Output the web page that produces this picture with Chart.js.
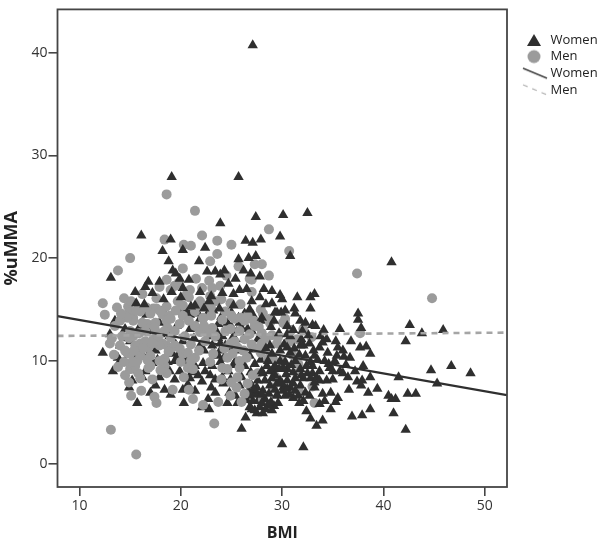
<!DOCTYPE html>
<html>
<head>
<meta charset="utf-8">
<title>BMI vs %uMMA</title>
<script src="https://cdn.jsdelivr.net/npm/chart.js@4/dist/chart.umd.min.js"></script>
<style>
    html, body { margin: 0; padding: 0; background: #fff; }
    #wrap { position: relative; width: 602px; height: 545px; }
</style>
</head>
<body>
<div id="wrap"><canvas id="scatterChart" width="602" height="545"></canvas></div>
<script>
// Valores: [BMI, %uMMA]
const womenPoints = [
    [27.1,40.7],[19.1,27.9],[25.7,27.9],[27.4,24.0],[30.1,24.2],[32.5,24.4],[23.9,23.4],[16.1,22.2],[40.8,19.6],[29.8,22.1],
    [19.0,21.8],[18.2,20.7],[20.2,20.8],[22.4,21.0],[26.4,21.7],[27.1,21.5],[27.9,21.8],[18.8,19.7],[21.8,19.7],[25.7,19.9],
    [26.7,20.0],[27.4,20.2],[30.8,20.2],[19.2,18.8],[19.5,18.5],[22.6,18.7],[23.4,18.7],[24.3,18.8],[23.9,18.4],[13.1,18.1],
    [16.8,17.7],[17.9,17.7],[20.8,17.9],[25.4,18.0],[27.8,18.2],[16.5,17.2],[24.7,17.5],[15.5,16.7],[19.1,16.7],[20.2,17.1],
    [26.5,17.0],[28.2,17.0],[17.2,16.6],[25.2,16.5],[29.8,16.4],[30.0,16.0],[18.3,16.0],[27.0,15.8],[15.6,15.6],[16.4,15.5],
    [22.8,15.8],[21.4,15.4],[25.2,15.4],[22.3,15.1],[23.8,15.1],[26.8,15.0],[29.5,14.7],[29.9,14.7],[20.5,14.9],[24.4,14.7],
    [25.0,14.7],[26.3,14.6],[27.1,14.5],[22.6,14.5],[19.8,14.8],[31.5,16.2],[32.8,16.2],[33.2,16.5],[31.2,15.1],[32.8,15.1],
    [29.3,14.7],[31.3,14.6],[37.5,14.6],[37.5,14.0],[32.3,13.7],[33.3,13.4],[37.8,13.2],[31.1,13.0],[34.1,13.0],[35.7,13.1],
    [42.6,13.5],[43.8,12.7],[45.9,13.0],[42.2,11.9],[36.8,11.9],[34.4,12.1],[35.3,11.9],[32.7,11.7],[30.5,12.6],[33.7,11.3],
    [35.5,11.3],[37.7,11.3],[38.3,11.4],[38.7,10.7],[34.5,10.8],[35.4,10.5],[36.1,10.4],[36.7,10.3],[32.1,11.5],[31.8,11.5],
    [30.5,11.3],[36.3,9.6],[38.0,9.5],[37.2,9.0],[35.0,9.0],[35.7,9.0],[36.5,8.4],[38.7,8.4],[37.4,8.0],[37.9,8.1],
    [37.8,7.6],[34.4,8.1],[36.6,7.2],[39.4,7.3],[38.5,6.9],[34.8,6.9],[34.0,6.8],[35.5,6.4],[35.3,6.0],[34.2,6.1],
    [40.5,6.6],[41.2,6.3],[40.8,6.3],[42.4,6.8],[43.2,6.8],[41.5,8.4],[44.7,9.1],[46.7,9.5],[48.6,8.8],[45.3,7.8],
    [38.7,5.3],[36.9,4.6],[37.9,4.7],[41.0,4.9],[34.8,5.3],[33.7,5.8],[31.7,5.9],[32.4,5.1],[32.8,4.4],[34.0,4.2],
    [33.4,3.7],[42.2,3.3],[30.0,1.9],[32.1,1.6],[29.2,5.6],[29.0,5.2],[31.1,6.4],[32.1,6.1],[29.5,6.7],[33.0,9.5],
    [33.0,8.8],[33.7,9.0],[33.4,8.4],[32.5,8.8],[32.8,8.3],[29.8,8.1],[30.5,8.1],[30.8,7.4],[30.1,7.4],[29.5,7.8],
    [29.1,9.2],[30.5,9.2],[34.7,9.3],[31.3,10.0],[31.8,9.2],[32.3,10.5],[31.3,8.3],[31.8,7.6],[32.3,6.9],[33.2,7.4],
    [33.7,8.1],[34.2,10.0],[33.2,10.5],[30.8,10.8],[29.8,10.0],[29.3,8.6],[28.8,7.6],[30.3,6.6],[31.3,7.1],[32.7,6.6],
    [12.3,10.8],[14.0,11.5],[13.3,9.0],[15.2,8.1],[14.9,7.4],[15.7,5.9],[18.4,7.2],[17.9,8.4],[20.2,7.2],[20.3,5.9],
    [22.7,6.3],[22.8,5.3],[22.1,5.5],[24.6,5.9],[25.6,5.9],[26.4,4.5],[26.0,3.4],[28.1,4.9],[27.5,4.9],[26.8,5.5],
    [27.1,6.1],[27.8,5.5],[27.3,6.8],[28.1,7.1],[29.5,6.6],[30.1,7.1],[19.4,8.2],[20.9,8.3],[22.1,8.0],[21.7,8.6],
    [19.9,9.0],[23.4,6.9],[23.4,8.2],[24.1,8.4],[24.2,7.8],[24.8,6.9],[22.2,9.8],[23.1,9.5],[19.7,10.5],[19.6,13.4],
    [21.7,13.2],[23.7,13.6],[14.5,13.1],[13.0,12.6],[14.0,10.0],[17.7,10.1],[19.2,10.7],[23.9,11.7],[23.9,11.0],[23.7,12.2],
    [25.6,11.0],[28.1,8.8],[28.8,9.0],[30.1,9.3],[27.5,7.4],[30.5,7.3],[23.5,12.9],[24.1,12.4],[23.1,11.5],[24.4,11.5],
    [23.7,10.5],[26.8,6.6],[27.6,6.1],[28.3,6.3],[28.6,5.7],[28.0,5.9],[27.3,5.2],[27.0,7.6],[27.6,8.1],[28.3,8.1],
    [29.0,8.3],[29.3,9.5],[28.6,10.0],[28.0,9.0],[29.8,11.0],[28.8,11.5],[27.6,12.1],[26.6,13.1],[25.8,13.7],[21.9,14.1],
    [20.9,13.1],[20.2,11.9],[20.9,10.5],[21.9,11.5],[22.7,12.4],[21.4,9.5],[22.9,8.6],[25.4,10.0],[26.3,9.5],[26.8,10.5],
    [24.7,9.0],[25.8,7.6],[25.4,6.6],[17.0,12.9],[16.0,13.4],[17.9,13.7],[15.0,11.9],[13.5,13.9],[17.5,11.0],[18.9,12.4],
    [18.4,11.5],[14.5,10.0],[16.5,9.0],[17.5,7.6],[19.4,10.0],[18.9,9.0],[21.4,7.1],
    [15.0,14.6],[16.6,14.5],[18.2,14.9],[21.0,15.3],[21.7,14.6],[23.2,14.9],[24.0,14.3],[25.7,14.2],[26.9,14.0],[28.4,15.5],
    [28.9,13.3],[30.3,14.9],[32.0,12.9],[33.8,12.4],[32.6,12.5],[31.9,12.1],[30.8,12.4],[29.7,12.7],[28.4,11.2],[27.2,11.1],
    [26.2,12.1],[25.2,12.4],[24.6,13.7],[22.9,13.0],[22.3,11.0],[21.3,12.2],[20.4,10.0],[19.5,11.6],[18.0,12.6],[16.8,10.6],
    [15.4,10.2],[14.9,9.1],[13.8,10.3],[16.2,8.4],[17.0,6.9],[19.0,6.7],[21.1,8.9],[20.7,7.7],[23.0,7.4],[23.9,9.9],
    [24.9,8.2],[25.2,9.6],[26.0,8.4],[26.9,8.9],[27.3,9.7],[27.9,10.1],[28.5,9.5],[29.7,9.2],[30.9,9.6],[31.7,10.6],
    [32.8,9.9],[33.5,10.1],[34.6,9.7],[35.2,10.0],[36.0,8.8],[35.0,8.2],[33.2,7.9],[32.1,8.3],[31.1,8.9],[30.4,8.7],
    [30.0,7.8],[29.3,7.2],[28.7,6.8],[28.0,6.7],[27.6,6.7],[27.2,7.2],[26.7,7.1],[26.5,6.2],[27.0,5.3],[27.8,6.2],
    [28.4,5.3],[28.9,6.0],[29.6,5.9],[30.7,6.7],[31.6,6.6],[31.9,8.6],[32.4,9.5],[31.1,7.8],[30.3,9.9],[29.0,10.7],
    [30.2,11.6],[31.2,11.2],[33.1,11.0],[34.0,11.8],[36.0,11.0],[33.0,13.5],[31.8,13.9],[30.5,13.4],[29.2,13.9],[27.9,13.9],
    [27.0,12.9],[26.0,13.2],[25.0,13.3],[24.9,11.3],[25.5,12.8],[24.2,10.2],[23.3,10.7],[22.4,9.0],[21.0,9.9],[18.7,9.9],
    [17.2,9.8],[16.0,10.9],[14.6,12.2],[20.9,14.5],[23.0,16.3],[24.1,16.6],[25.8,16.9],[27.8,16.2],[29.0,15.6],[28.0,14.2],
    [20.0,16.2],[21.9,16.7],[19.9,18.0],[26.2,18.8],[26.9,18.5],[29.0,16.8]
];

const menPoints = [
    [18.6,26.2],[21.4,24.6],[28.7,22.8],[22.1,22.2],[18.4,21.8],[23.6,21.7],[20.3,21.3],[21.0,21.2],[25.0,21.3],[23.6,20.4],
    [15.0,20.0],[30.7,20.7],[22.9,19.7],[13.8,18.8],[20.2,19.0],[25.7,19.2],[27.3,19.4],[28.0,19.4],[28.7,18.3],[26.8,18.0],
    [27.0,17.9],[18.6,17.9],[22.8,17.8],[17.9,17.2],[19.4,17.3],[22.1,17.1],[19.0,16.9],[23.9,17.3],[23.1,17.1],[20.9,16.9],
    [27.0,16.7],[20.6,16.5],[20.8,16.2],[14.4,16.1],[17.6,16.1],[12.3,15.6],[13.7,15.2],[14.8,15.3],[18.6,15.3],[24.0,16.0],
    [20.2,15.4],[21.7,15.4],[25.9,15.5],[23.0,15.1],[17.3,15.1],[17.6,15.1],[12.5,14.5],[14.9,14.7],[17.0,14.7],[27.9,15.0],
    [28.1,14.6],[14.6,14.3],[15.3,14.2],[18.2,14.5],[18.9,14.4],[20.2,14.4],[22.2,14.2],[25.3,14.1],[28.8,14.1],[30.3,14.1],
    [37.4,18.5],[44.8,16.1],[13.1,3.3],[15.6,0.9],[23.3,3.9],[15.1,6.6],[17.4,6.5],[17.6,5.9],[21.2,6.3],[19.2,7.2],
    [22.2,5.7],[23.7,6.0],[20.3,8.4],[16.8,9.3],[16.0,8.3],[15.8,8.8],[15.0,9.2],[13.8,9.4],[18.6,8.8],[18.4,9.5],
    [18.4,10.2],[20.7,9.3],[21.2,9.2],[24.1,9.3],[24.6,9.2],[25.6,8.4],[25.5,7.4],[26.3,6.8],[26.6,7.8],[27.1,8.6],
    [27.6,8.8],[25.8,9.3],[25.8,10.0],[26.5,10.3],[28.6,10.2],[29.3,8.4],[29.1,7.4],[28.1,6.3],[24.6,10.3],[20.2,10.7],
    [20.7,10.8],[21.4,10.3],[23.2,10.7],[18.6,11.5],[19.2,11.3],[18.2,11.7],[17.0,10.5],[16.8,11.3],[16.0,11.7],[16.5,11.9],
    [14.7,10.8],[15.0,10.7],[15.7,10.0],[13.0,11.7],[13.2,12.2],[14.2,12.4],[15.3,12.4],[17.3,12.1],[18.6,13.9],[18.7,13.2],
    [17.0,14.6],[15.3,13.9],[14.7,14.2],[16.7,13.6],[22.2,14.1],[23.1,13.2],[22.6,12.7],[24.9,13.1],[25.8,12.9],[26.8,12.6],
    [28.0,12.7],[28.8,13.7],[30.3,13.6],[28.0,11.7],[29.5,11.7],[30.5,11.7],[24.9,11.7],[26.3,12.1],[30.1,9.8],[37.7,12.7],
    [32.1,13.1],[31.5,12.1],[30.8,11.9],[30.1,13.7],[29.1,10.2],[30.1,9.9],[31.6,9.7],[29.3,8.5],[31.5,8.8],[33.0,7.5],
    [31.6,7.2],[33.2,5.9],[13.5,13.4],[14.0,11.5],[14.5,11.0],[15.5,11.5],[16.0,10.5],[16.5,12.9],[17.5,12.9],[17.9,11.5],
    [19.4,12.9],[20.4,12.4],[21.4,13.4],[22.4,11.9],[23.4,12.4],[24.4,12.9],[25.3,11.9],[16.2,13.7],[17.5,13.7],[18.4,12.9],
    [16.0,14.8],[14.0,13.9],[15.0,12.9],[17.0,9.5],[14.5,8.6],[15.5,9.5],[17.9,10.0],[19.4,11.5],[21.9,15.8],[22.9,16.3],
    [23.4,15.8],[24.4,14.8],[26.3,13.9],[27.3,13.4],[21.4,14.8],[19.7,15.8],
    [14.1,14.6],[15.6,14.9],[13.4,10.6],[14.9,12.2],[15.9,12.7],[16.3,11.2],[17.2,11.7],[17.8,12.4],[18.8,10.9],[16.7,10.1],
    [15.2,9.9],[14.4,9.9],[15.4,11.0],[17.4,13.3],[19.0,14.1],[19.9,13.6],[20.8,13.9],[21.9,12.8],[22.3,13.4],[23.0,14.4],
    [24.1,14.0],[25.0,14.4],[25.9,14.2],[26.6,14.4],[27.2,13.9],[27.7,13.3],[24.3,11.2],[25.1,10.7],[25.6,11.3],[26.2,11.0],
    [27.0,11.6],[27.5,11.2],[28.4,12.2],[29.0,12.5],[29.6,12.3],[22.9,9.9],[21.8,11.0],[21.0,11.6],[19.9,11.2],[19.0,12.3],
    [24.0,8.2],[25.0,7.9],[24.9,6.6],[26.0,6.0],[20.8,7.2],[18.0,9.1],[17.2,8.2],[16.1,7.1],[14.9,7.9],[19.8,17.6],
    [21.5,18.0],[24.5,18.3],[16.2,16.5],[15.1,15.8],[16.6,15.2],[18.0,14.8],[19.5,14.9],[22.6,15.4],[24.9,15.6],[20.0,9.9],
    [21.0,10.0],[27.9,10.8],[30.9,13.0],[31.0,10.6],[32.9,12.3]
];

// Rectas de ajuste por sexo
const fitBmi = [7.83, 52.2];
const womenFit = [14.36, 6.67];
const menFit = [12.43, 12.75];

// Ejes
const bmiRange = [7.83, 52.2];
const ummaRange = [-2.27, 44.2];
const bmiTicks = [10, 20, 30, 40, 50];
const ummaTicks = [0, 10, 20, 30, 40];
const legendNames = ['Women', 'Men', 'Women', 'Men'];

const DARK = '#2f2f2f';
const GREY = '#9b9b9b';
const FRAME = '#454545';
const FONT = '"Open Sans", sans-serif';

/**
 * Crea el simbolo de la leyenda en un canvas pequeno.
 * @param {function} paint - Recibe el contexto y dibuja el simbolo.
 */
function makeSymbol(paint) {
    const c = document.createElement('canvas');
    c.width = 32;
    c.height = 18;
    paint(c.getContext('2d'));
    return c;
}

const legendSymbols = [
    makeSymbol(ctx => {
        ctx.fillStyle = DARK;
        ctx.beginPath();
        ctx.moveTo(16, 3);
        ctx.lineTo(23, 15);
        ctx.lineTo(9, 15);
        ctx.closePath();
        ctx.fill();
    }),
    makeSymbol(ctx => {
        ctx.fillStyle = GREY;
        ctx.beginPath();
        ctx.arc(16, 9, 6.5, 0, Math.PI * 2);
        ctx.fill();
    }),
    makeSymbol(ctx => {
        ctx.strokeStyle = '#444';
        ctx.lineWidth = 1.5;
        ctx.beginPath();
        ctx.moveTo(5, 4);
        ctx.lineTo(29, 14);
        ctx.stroke();
    }),
    makeSymbol(ctx => {
        ctx.strokeStyle = '#b5b5b5';
        ctx.lineWidth = 1.2;
        ctx.setLineDash([5, 5]);
        ctx.beginPath();
        ctx.moveTo(5, 4);
        ctx.lineTo(29, 14);
        ctx.stroke();
    }),
];

// Marco completo y leyenda fuera del area del grafico
const framePlugin = {
    id: 'framePlugin',
    afterLayout(chart) {
        const legend = chart.legend;
        legend.left = 520.4;
        legend.right = 602;
        legend.top = 29.9;
        legend.bottom = 110;
    },
    afterDatasetsDraw(chart) {
        const { ctx, chartArea } = chart;
        ctx.save();
        ctx.strokeStyle = FRAME;
        ctx.lineWidth = 1.8;
        ctx.strokeRect(chartArea.left, chartArea.top, chartArea.width, chartArea.height);
        ctx.restore();
    },
};

function axisOptions(range, ticks, title, size, titleSize, titlePadding, tickPadding) {
    return {
        type: 'linear',
        min: range[0],
        max: range[1],
        afterBuildTicks: scale => { scale.ticks = ticks.map(value => ({ value })); },
        afterFit: scale => {
            if (scale.isHorizontal()) scale.height = size;
            else scale.width = size;
        },
        grid: { drawOnChartArea: false, drawTicks: true, tickLength: 9, color: FRAME, lineWidth: 1.6 },
        border: { display: false },
        ticks: {
            color: '#333',
            padding: tickPadding,
            maxRotation: 0,
            autoSkip: false,
            font: { family: FONT, size: 14 },
        },
        title: {
            display: true,
            text: title,
            color: '#222',
            padding: titlePadding,
            font: { family: FONT, size: titleSize, weight: 'bold' },
        },
    };
}

const toXY = points => points.map(p => ({ x: p[0], y: p[1] }));
const fitLine = values => values.map((y, i) => ({ x: fitBmi[i], y }));

// En el original los casos estan mezclados: parte de los triangulos queda sobre los circulos
const isFront = p => p[0] >= 28 || p[1] >= 15;
const triangleStyle = {
    label: 'Women',
    pointStyle: 'triangle',
    pointRadius: 6,
    backgroundColor: DARK,
    borderWidth: 0,
};

new Chart(document.getElementById('scatterChart').getContext('2d'), {
    type: 'scatter',
    data: {
        datasets: [
            { ...triangleStyle, data: toXY(womenPoints.filter(p => !isFront(p))), order: 4 },
            {
                label: 'Men',
                data: toXY(menPoints),
                pointStyle: 'circle',
                pointRadius: 5,
                backgroundColor: GREY,
                borderWidth: 0,
                order: 3,
            },
            { ...triangleStyle, data: toXY(womenPoints.filter(isFront)), order: 2 },
            {
                type: 'line',
                label: 'Women',
                data: fitLine(womenFit),
                borderColor: DARK,
                borderWidth: 2.2,
                pointRadius: 0,
                order: 1,
            },
            {
                type: 'line',
                label: 'Men',
                data: fitLine(menFit),
                borderColor: '#a5a5a5',
                borderWidth: 2.6,
                borderDash: [6, 5],
                pointRadius: 0,
                order: 0,
            },
        ],
    },
    options: {
        responsive: false,
        animation: false,
        layout: { autoPadding: false, padding: { top: 6, right: 95, left: 0, bottom: 0 } },
        scales: {
            x: axisOptions(bmiRange, bmiTicks, 'BMI', 58, 16, { top: 8, bottom: 2 }, 2),
            y: axisOptions(ummaRange, ummaTicks, '%uMMA', 57.5, 18, { top: 1, bottom: 4 }, 1),
        },
        plugins: {
            tooltip: { enabled: false },
            legend: {
                position: 'chartArea',
                align: 'start',
                labels: {
                    usePointStyle: true,
                    pointStyleWidth: 20,
                    padding: 3.6,
                    color: '#222',
                    font: { family: FONT, size: 13 },
                    generateLabels: () => legendNames.map((text, i) => ({
                        text,
                        pointStyle: legendSymbols[i],
                        fontColor: '#222',
                        lineWidth: 0,
                    })),
                },
            },
        },
    },
    plugins: [framePlugin],
});
</script>
</body>
</html>
